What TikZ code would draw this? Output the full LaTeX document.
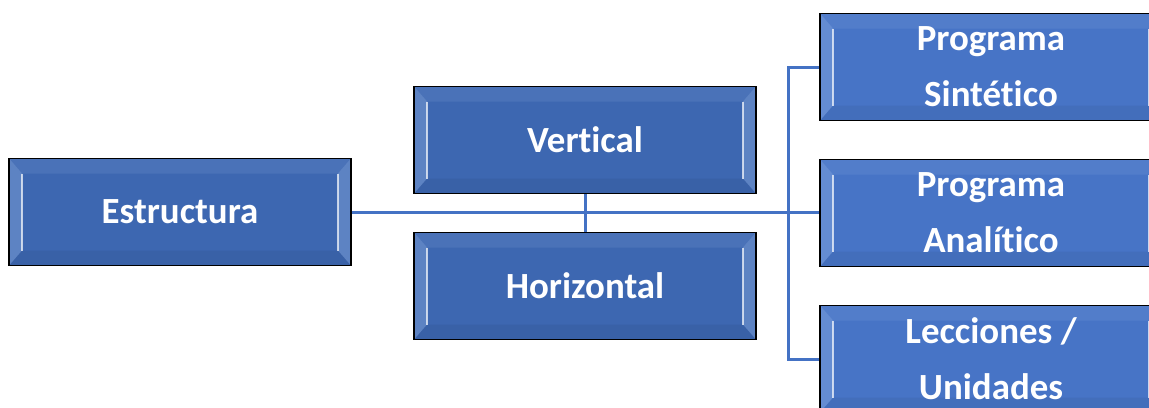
\documentclass[tikz,border=0pt]{standalone}
\usepackage{fontspec}
\setmainfont{Carlito}[Ligatures=NoCommon]
\usetikzlibrary{calc}

\definecolor{azulOsc}{HTML}{3D67B1}
\definecolor{azulCla}{HTML}{4774C6}
\definecolor{linea}{HTML}{4472C4}
\definecolor{bisel}{HTML}{A9C4EE}

\tikzset{
    caja/.style={draw=black, line width=1.1pt, fill=#1, text=white,
        minimum width=6.84cm, minimum height=2.14cm, inner sep=0pt, align=center,
        font=\bfseries\fontsize{21}{32}\selectfont,
        path picture={
            \fill[bisel, opacity=0.3] (path picture bounding box.north west) -- ++(0.26cm,-0.3cm) -- ($(path picture bounding box.south west)+(0.26cm,0.3cm)$) -- (path picture bounding box.south west) -- cycle;
            \fill[bisel, opacity=0.3] (path picture bounding box.north east) -- ++(-0.26cm,-0.3cm) -- ($(path picture bounding box.south east)+(-0.26cm,0.3cm)$) -- (path picture bounding box.south east) -- cycle;
            \fill[bisel, opacity=0.12] (path picture bounding box.north west) -- ++(0.26cm,-0.3cm) -- ($(path picture bounding box.north east)+(-0.26cm,-0.3cm)$) -- (path picture bounding box.north east) -- cycle;
            \fill[black, opacity=0.05] (path picture bounding box.south west) -- ++(0.26cm,0.3cm) -- ($(path picture bounding box.south east)+(-0.26cm,0.3cm)$) -- (path picture bounding box.south east) -- cycle;
            \draw[white, opacity=0.7, line width=1.3pt] ($(path picture bounding box.north west)+(0.26cm,-0.3cm)$) -- ($(path picture bounding box.south west)+(0.26cm,0.3cm)$);
            \draw[white, opacity=0.7, line width=1.3pt] ($(path picture bounding box.north east)+(-0.26cm,-0.3cm)$) -- ($(path picture bounding box.south east)+(-0.26cm,0.3cm)$);
        }},
    conector/.style={draw=linea, line width=1.7pt}
}

\begin{document}
\begin{tikzpicture}[x=0.02cm, y=-0.02cm]
    \useasboundingbox (0,0) rectangle (1149,407);
    \node[caja=azulOsc] (estructura) at (180,212) {Estructura};
    \node[caja=azulOsc] (vertical) at (585,140) {Vertical};
    \node[caja=azulOsc] (horizontal) at (585,286) {Horizontal};
    \node[caja=azulCla] (sintetico) at (991,67) {Programa\\Sintético};
    \node[caja=azulCla] (analitico) at (991,213) {Programa\\Analítico};
    \node[caja=azulCla] (lecciones) at (991,359) {Lecciones /\\Unidades};
    \coordinate (bus) at (788,213);
    \draw[conector] (estructura.east) -- (estructura.east -| analitico.west);
    \draw[conector] (vertical.south) -- (horizontal.north);
    \draw[conector] (sintetico.west) -| (bus) |- (lecciones.west);
\end{tikzpicture}
\end{document}
